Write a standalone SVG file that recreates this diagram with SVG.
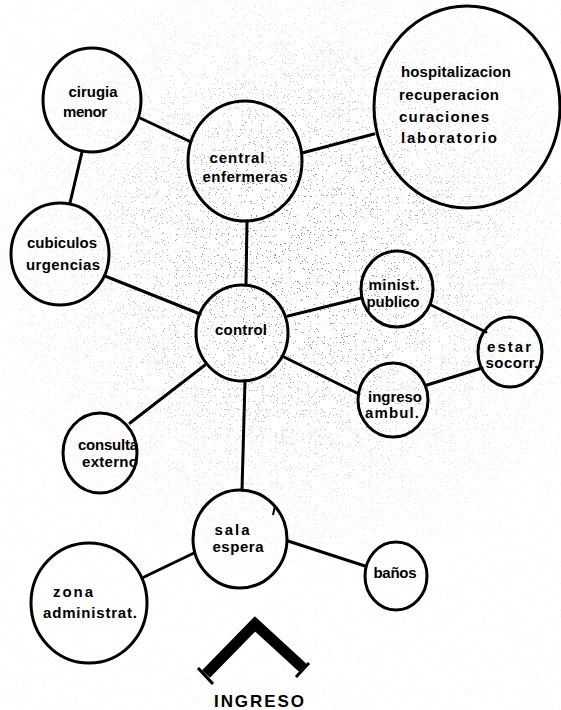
<svg xmlns="http://www.w3.org/2000/svg" width="561" height="710" viewBox="0 0 561 710">
<style>
.n{fill:none;stroke:#000;stroke-width:3}
.c{stroke:#000;stroke-width:3;fill:none;stroke-linecap:round}
text{font-family:"Liberation Sans",Arial,sans-serif;font-weight:bold;font-size:15px;fill:#000;text-anchor:middle}
.l{text-anchor:start}
</style>
<defs>
<filter id="noise" x="0" y="0" width="561" height="710" filterUnits="userSpaceOnUse">
<feTurbulence type="fractalNoise" baseFrequency="0.85" numOctaves="2" seed="7" result="n"/>
<feColorMatrix in="n" type="matrix" values="0 0 0 0 0  0 0 0 0 0  0 0 0 0 0  -26 0 0 0 8.2"/>
</filter>
<radialGradient id="rg" gradientUnits="userSpaceOnUse" cx="300" cy="260" r="320">
<stop offset="0" stop-color="#fff"/>
<stop offset="0.35" stop-color="#bbb"/>
<stop offset="0.7" stop-color="#444"/>
<stop offset="1" stop-color="#111"/>
</radialGradient>
<mask id="m"><rect width="561" height="710" fill="url(#rg)"/></mask>
</defs>
<rect width="561" height="710" fill="#fff"/>
<g mask="url(#m)"><rect width="561" height="710" fill="#000" filter="url(#noise)" opacity="0.5"/></g>

<g id="connectors">
<line class="c" x1="140" y1="118" x2="189" y2="141"/>
<line class="c" x1="82" y1="152" x2="70" y2="203"/>
<line class="c" x1="302" y1="153" x2="374" y2="134"/>
<line class="c" x1="247" y1="221" x2="246" y2="285"/>
<line class="c" x1="105" y1="276" x2="200" y2="314"/>
<line class="c" x1="288" y1="316" x2="361" y2="298"/>
<line class="c" x1="284" y1="357" x2="359" y2="394"/>
<line class="c" x1="205" y1="365" x2="130" y2="423"/>
<line class="c" x1="245" y1="381" x2="242" y2="490"/>
<line class="c" x1="431" y1="305" x2="486" y2="332"/>
<line class="c" x1="482" y1="368" x2="427" y2="385"/>
<line class="c" x1="142" y1="578" x2="194" y2="553"/>
<line class="c" x1="288" y1="541" x2="365" y2="566"/>
</g>

<g id="cirugia-menor"><ellipse class="n" cx="92" cy="100" rx="49" ry="52"/>
<text x="93" y="97" textLength="49">cirugia</text><text x="85" y="117" textLength="44">menor</text></g>

<g id="central-enfermeras"><ellipse class="n" cx="245" cy="161" rx="57" ry="60"/>
<text x="237" y="163" textLength="55">central</text><text x="245" y="182" textLength="85">enfermeras</text></g>

<g id="hospitalizacion"><ellipse class="n" cx="467" cy="107" rx="93" ry="101"/>
<text class="l" x="401" y="77" textLength="110">hospitalizacion</text>
<text class="l" x="399" y="100" textLength="100">recuperacion</text>
<text class="l" x="399" y="122" textLength="90">curaciones</text>
<text class="l" x="401" y="143" textLength="96">laboratorio</text></g>

<g id="cubiculos-urgencias"><ellipse class="n" cx="60" cy="254" rx="49" ry="51"/>
<text x="62" y="248" textLength="70">cubiculos</text><text x="63" y="270" textLength="74">urgencias</text></g>

<g id="control"><ellipse class="n" cx="242" cy="333" rx="46" ry="48"/>
<text x="241" y="335" textLength="52">control</text></g>

<g id="minist-publico"><ellipse class="n" cx="397" cy="289" rx="36" ry="38"/>
<text x="394" y="290" textLength="51">minist.</text><text x="393" y="307" textLength="53">publico</text></g>

<g id="estar-socorr"><ellipse class="n" cx="510" cy="352" rx="32" ry="35"/>
<text x="509" y="352" textLength="44">estar</text><text x="512" y="368" textLength="53">socorr.</text></g>

<g id="ingreso-ambul"><ellipse class="n" cx="393" cy="400" rx="35" ry="37"/>
<text x="395" y="402" textLength="54">ingreso</text><text x="392" y="418" textLength="54">ambul.</text></g>

<g id="consulta-externo"><ellipse class="n" cx="100" cy="453" rx="37" ry="40"/>
<text x="108" y="450" textLength="60">consulta</text><text x="110" y="467" textLength="56">externo</text></g>

<g id="sala-espera"><ellipse class="n" cx="240" cy="539" rx="47" ry="49"/>
<text x="232" y="535" textLength="35">sala</text><text x="238" y="552" textLength="51">espera</text>
<path d="M275 506 L273 515" stroke="#000" stroke-width="2" fill="none"/></g>

<g id="zona-administrat"><ellipse class="n" cx="89" cy="603" rx="58" ry="60"/>
<text x="73" y="597" textLength="40">zona</text><text x="90" y="618" textLength="94">administrat.</text></g>

<g id="banos"><ellipse class="n" cx="396" cy="576" rx="31" ry="34"/>
<text x="395" y="578" textLength="43">baños</text></g>

<g id="ingreso">
<polyline points="206,674 255,624 303,668" fill="none" stroke="#000" stroke-width="11" stroke-linejoin="miter"/>
<line x1="198" y1="668" x2="213" y2="684" stroke="#000" stroke-width="3"/>
<line x1="296" y1="677" x2="309" y2="663" stroke="#000" stroke-width="3"/>
<text x="259" y="707" textLength="90" style="font-size:17px">INGRESO</text>
</g>
</svg>
